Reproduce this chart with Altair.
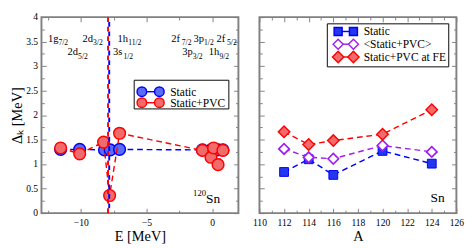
import altair as alt
import pandas as pd

FONT = "Liberation Serif, Times New Roman, serif"
GRAY = "#808080"
BLUE = "#0000ff"
BLUE_FILL = "#5a6cf3"
RED = "#ff0000"
RED_FILL = "#f26b6b"
PURPLE = "#a020f0"
SQ_FILL = "#2436ee"

# ---------------- left panel data (120Sn single-particle levels) ----------------
levels = ["1g7/2", "2d5/2", "2d3/2", "3s1/2", "1h11/2", "2f7/2", "3p3/2", "3p1/2", "1h9/2", "2f5/2"]
E_static = [-11.54, -10.09, -8.20, -7.76, -7.05, -0.74, -0.09, 0.11, 0.45, 0.82]
D_static = [1.30, 1.30, 1.29, 1.29, 1.30, 1.29, 1.29, 1.29, 1.29, 1.29]
E_pvc = [-11.54, -10.09, -8.27, -7.81, -7.05, -0.74, -0.09, 0.11, 0.45, 0.82]
D_pvc = [1.33, 1.21, 1.45, 0.36, 1.63, 1.28, 1.14, 1.33, 0.99, 1.28]
fermi_pvc = [-7.93]
fermi_static = [-7.84]

# level annotations
level_main = ["1g", "2d", "2d", "3s", "1h", "2f", "3p", "2f", "3p", "1h"]
level_sub = ["7/2", "5/2", "3/2", "1/2", "11/2", "7/2", "1/2", "5/2", "3/2", "9/2"]
level_E = [-12.51, -11.01, -9.87, -7.56, -7.20, -3.12, -1.42, 0.33, -2.27, -0.25]
level_D = [3.50, 3.23, 3.50, 3.23, 3.50, 3.50, 3.50, 3.50, 3.23, 3.23]

# ---------------- right panel data (Sn isotopes) ----------------
A_vals = [112, 114, 116, 120, 124]
DA_static = [0.84, 1.10, 0.78, 1.27, 1.01]
DA_avg = [1.31, 1.14, 1.11, 1.38, 1.25]
DA_fe = [1.66, 1.40, 1.48, 1.61, 2.11]

left_legend = ["Static", "Static+PVC"]
right_legend = ["Static", "<Static+PVC>", "Static+PVC at FE"]

W1, W2, H = 206, 206, 205

xL = alt.Scale(domain=[-13, 2], nice=False, zero=False)
xR = alt.Scale(domain=[110, 126], nice=False, zero=False)
yS = alt.Scale(domain=[0, 4], nice=False, zero=False)

y_major = [i * 0.5 for i in range(9)]
y_minor = [0.25 + i * 0.5 for i in range(8)]

df_static = pd.DataFrame({"E": E_static, "D": D_static})
df_pvc = pd.DataFrame({"E": E_pvc, "D": D_pvc})
df_levels = pd.DataFrame({"main": level_main, "sub": level_sub, "E": level_E, "D": level_D})

df_a_static = pd.DataFrame({"A": A_vals, "D": DA_static})
df_a_avg = pd.DataFrame({"A": A_vals, "D": DA_avg})
df_a_fe = pd.DataFrame({"A": A_vals, "D": DA_fe})

one = pd.DataFrame({"k": [0]})


def X(field, scale):
    return alt.X(f"{field}:Q", scale=scale, axis=None)


def Y():
    return alt.Y("D:Q", scale=yS, axis=None)


def tick_layers(df, field, xscale, xmaj, xmin):
    out = []
    for xv, yv, size in [(xmaj, y_major, 5), (xmin, y_minor, 3)]:
        for ox, oy in [("bottom", "left"), ("top", "right")]:
            out.append(
                alt.Chart(df).mark_point(opacity=0).encode(
                    x=alt.X(f"{field}:Q", scale=xscale,
                            axis=alt.Axis(orient=ox, offset=-size, tickSize=size, values=xv,
                                          labels=False, domain=False, grid=False, title=None,
                                          ticks=True, tickColor=GRAY, tickWidth=1)),
                    y=alt.Y("D:Q", scale=yS,
                            axis=alt.Axis(orient=oy, offset=-size, tickSize=size, values=yv,
                                          labels=False, domain=False, grid=False, title=None,
                                          ticks=True, tickColor=GRAY, tickWidth=1)),
                )
            )
    return out


def legend_layers(box, entries, sym_x, text_x):
    lay = [alt.Chart(one).mark_rect(fill="white", stroke="black", strokeWidth=1).encode(
        x=alt.value(box[0]), x2=alt.value(box[1]), y=alt.value(box[2]), y2=alt.value(box[3]))]
    for label, yy, color, shape, fill, size in entries:
        lay.append(alt.Chart(one).mark_rule(color=color, strokeWidth=1.5).encode(
            x=alt.value(sym_x[0]), x2=alt.value(sym_x[1]), y=alt.value(yy)))
        for sx in sym_x:
            lay.append(alt.Chart(one).mark_point(shape=shape, filled=True, fill=fill, stroke=color,
                                                 strokeWidth=1.5, size=size, opacity=1).encode(
                x=alt.value(sx), y=alt.value(yy)))
        lay.append(alt.Chart(one).mark_text(align="left", baseline="middle", font=FONT, fontSize=12,
                                            color="black").encode(
            x=alt.value(text_x), y=alt.value(yy), text=alt.value(label)))
    return lay


# ---------------- left panel ----------------
main_left = alt.Chart(df_static).mark_line(color=BLUE, strokeDash=[6, 4], strokeWidth=1.5).encode(
    x=alt.X("E:Q", scale=xL,
            axis=alt.Axis(values=[-10, -5, 0], format="~r", ticks=False, tickSize=0, domain=False,
                          grid=False, labelFontSize=10, labelPadding=5, labelFlush=False,
                          labelOverlap=False, title="E [MeV]", titleFontSize=15, titlePadding=2)),
    y=alt.Y("D:Q", scale=yS,
            axis=alt.Axis(values=y_major, format="~r", ticks=False, tickSize=0, domain=False,
                          grid=False, labelFontSize=10, labelPadding=4, labelOverlap=False,
                          title="Δₖ [MeV]", titleFontSize=15, titlePadding=1)),
)
blue_pts = alt.Chart(df_static).mark_point(shape="circle", filled=True, fill=BLUE_FILL, stroke=BLUE,
                                           strokeWidth=1.5, size=150, opacity=1).encode(
    x=X("E", xL), y=Y())
red_line = alt.Chart(df_pvc).mark_line(color=RED, strokeDash=[6, 4], strokeWidth=1.5).encode(
    x=X("E", xL), y=Y())
red_pts = alt.Chart(df_pvc).mark_point(shape="circle", filled=True, fill=RED_FILL, stroke=RED,
                                       strokeWidth=1.5, size=150, opacity=1).encode(
    x=X("E", xL), y=Y())
fermi_r = alt.Chart(pd.DataFrame({"E": fermi_pvc})).mark_rule(
    color=RED, strokeDash=[5, 5], strokeWidth=2).encode(x=X("E", xL))
fermi_b = alt.Chart(pd.DataFrame({"E": fermi_static})).mark_rule(
    color=BLUE, strokeDash=[5, 5], strokeDashOffset=5, strokeWidth=2).encode(x=X("E", xL))
lev_main = alt.Chart(df_levels).mark_text(align="left", baseline="alphabetic", font=FONT, fontSize=11,
                                          color="black").encode(
    x=X("E", xL), y=Y(), text="main:N")
lev_sub = alt.Chart(df_levels).mark_text(align="left", baseline="alphabetic", font=FONT, fontSize=8,
                                         dx=11, dy=4, color="black").encode(
    x=X("E", xL), y=Y(), text="sub:N")
sn_df = pd.DataFrame({"E": [-0.47], "D": [0.21]})
sup_df = pd.DataFrame({"E": [-0.47], "D": [0.34]})
sn_l = alt.Chart(sn_df).mark_text(align="left", baseline="alphabetic", font=FONT, fontSize=14,
                                  color="black").encode(x=X("E", xL), y=Y(), text=alt.value("Sn"))
sup_l = alt.Chart(sup_df).mark_text(align="right", baseline="alphabetic", font=FONT, fontSize=9,
                                    color="black").encode(x=X("E", xL), y=Y(), text=alt.value("120"))

leg_left = legend_layers(
    (97, 196, 66, 96),
    [(left_legend[0], 78, BLUE, "circle", BLUE_FILL, 100),
     (left_legend[1], 89.5, RED, "circle", RED_FILL, 100)],
    (105, 123.3), 134.7)

left = alt.layer(
    main_left, *tick_layers(df_static, "E", xL, [-10, -5, 0], [-12.5, -7.5, -2.5]),
    blue_pts, red_line, red_pts, fermi_r, fermi_b, lev_main, lev_sub, sn_l, sup_l, *leg_left
).resolve_axis(x="independent", y="independent").properties(width=W1, height=H)

# ---------------- right panel ----------------
main_right = alt.Chart(df_a_static).mark_line(color=BLUE, strokeDash=[6, 4], strokeWidth=1.5).encode(
    x=alt.X("A:Q", scale=xR,
            axis=alt.Axis(values=list(range(110, 127, 2)), format="~r", ticks=False, tickSize=0,
                          domain=False, grid=False, labelFontSize=10, labelPadding=5, labelFlush=False,
                          labelOverlap=False, title="A", titleFontSize=15, titlePadding=2)),
    y=Y(),
)
sq_pts = alt.Chart(df_a_static).mark_point(shape="square", filled=True, fill=SQ_FILL, stroke=BLUE,
                                           strokeWidth=1, size=85, opacity=1).encode(x=X("A", xR), y=Y())
avg_line = alt.Chart(df_a_avg).mark_line(color=PURPLE, strokeDash=[6, 4], strokeWidth=1.5).encode(
    x=X("A", xR), y=Y())
avg_pts = alt.Chart(df_a_avg).mark_point(shape="diamond", filled=True, fill="white", stroke=PURPLE,
                                         strokeWidth=1.8, size=121, opacity=1).encode(x=X("A", xR), y=Y())
fe_line = alt.Chart(df_a_fe).mark_line(color=RED, strokeDash=[6, 4], strokeWidth=1.5).encode(
    x=X("A", xR), y=Y())
fe_pts = alt.Chart(df_a_fe).mark_point(shape="diamond", filled=True, fill=RED_FILL, stroke=RED,
                                       strokeWidth=1.5, size=144, opacity=1).encode(x=X("A", xR), y=Y())
sn_r = alt.Chart(pd.DataFrame({"A": [123.9], "D": [0.23]})).mark_text(
    align="left", baseline="alphabetic", font=FONT, fontSize=14, color="black").encode(
    x=X("A", xR), y=Y(), text=alt.value("Sn"))

leg_right = legend_layers(
    (71, 198, 7, 52),
    [(right_legend[0], 15, BLUE, "square", SQ_FILL, 70),
     (right_legend[1], 28.3, PURPLE, "diamond", "white", 110),
     (right_legend[2], 41.7, RED, "diamond", RED_FILL, 140)],
    (82.3, 98.3), 109)

right = alt.layer(
    main_right, *tick_layers(df_a_static, "A", xR, list(range(110, 127, 2)), list(range(111, 126, 2))),
    sq_pts, avg_line, avg_pts, fe_line, fe_pts, sn_r, *leg_right
).resolve_axis(x="independent", y="independent").properties(width=W2, height=H)

chart = alt.hconcat(left, right, spacing=11).properties(
    padding={"left": 1, "top": -2, "right": 0, "bottom": 0}
).configure_view(stroke=GRAY, strokeWidth=2).configure_axis(
    labelFont=FONT, titleFont=FONT, labelColor="black", titleColor="black", titleFontWeight="normal"
)

chart.save("out.html", embed_options={"renderer": "svg", "actions": False})
